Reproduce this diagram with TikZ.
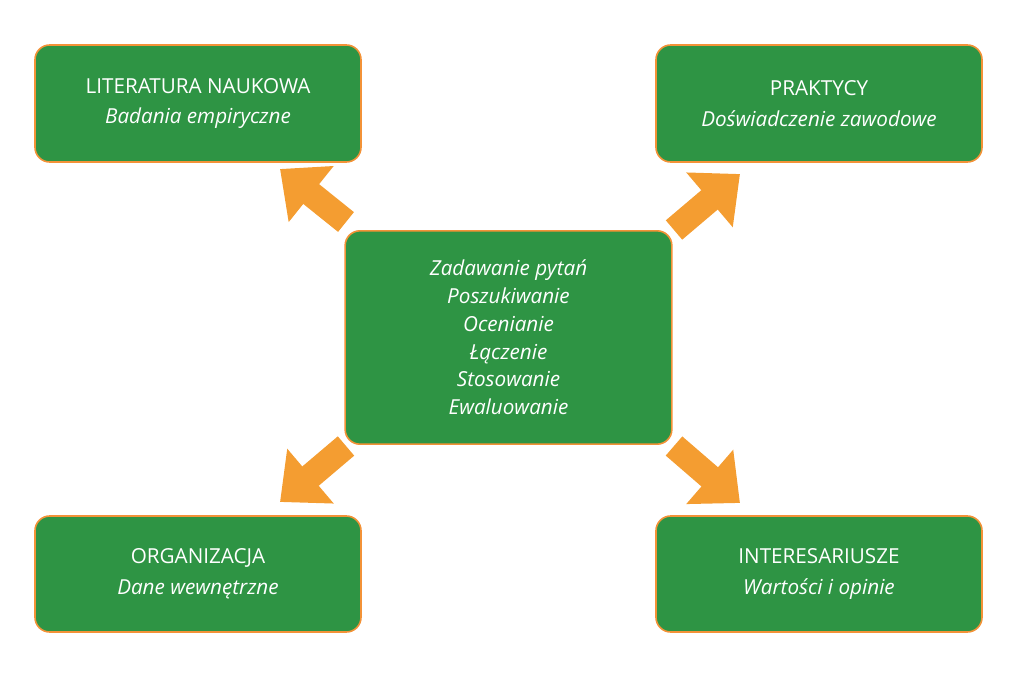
\documentclass[tikz,border=0pt]{standalone}
\usepackage{fontspec}
\setmainfont{Open Sans}
\usetikzlibrary{arrows.meta}
\definecolor{boxgreen}{HTML}{2E9444}
\definecolor{boxorange}{HTML}{F39237}
\begin{document}
\begin{tikzpicture}[x=0.75pt,y=-0.75pt,
  box/.style={draw=boxorange,line width=1.2pt,fill=boxgreen,rounded corners=11pt,text=white,align=center,inner sep=0pt,font=\fontsize{15.5}{21}\selectfont},
  barrow/.style={draw=boxorange!90!yellow,line width=19pt,-{Triangle[length=30pt,width=52pt]}}]
\useasboundingbox (0,0) rectangle (1017,674);
\node[box,minimum width=244.5pt,minimum height=87.75pt] (lit) at (198,103.5) {LITERATURA NAUKOWA\\[2pt]\textit{Badania empiryczne}};
\node[box,minimum width=244.5pt,minimum height=87.75pt] (pra) at (819,103.5) {PRAKTYCY\\[2pt]\textit{Doświadczenie zawodowe}};
\node[box,minimum width=244.5pt,minimum height=87pt] (org) at (198,574) {ORGANIZACJA\\[2pt]\textit{Dane wewnętrzne}};
\node[box,minimum width=244.5pt,minimum height=87pt] (int) at (819,574) {INTERESARIUSZE\\[2pt]\textit{Wartości i opinie}};
\node[box,minimum width=245pt,minimum height=160pt,font=\fontsize{15.5}{20.8}\selectfont\itshape] (cen) at (508.5,337.5) {Zadawanie pytań\\Poszukiwanie\\Ocenianie\\Łączenie\\Stosowanie\\Ewaluowanie};
\coordinate (a1) at (346,222); \coordinate (b1) at (280,169);
\coordinate (a2) at (674,230); \coordinate (b2) at (740,174);
\coordinate (a3) at (346,446); \coordinate (b3) at (280,502);
\coordinate (a4) at (674,446); \coordinate (b4) at (740,503);
\draw[barrow] (a1) -- (b1);
\draw[barrow] (a2) -- (b2);
\draw[barrow] (a3) -- (b3);
\draw[barrow] (a4) -- (b4);
\end{tikzpicture}
\end{document}
